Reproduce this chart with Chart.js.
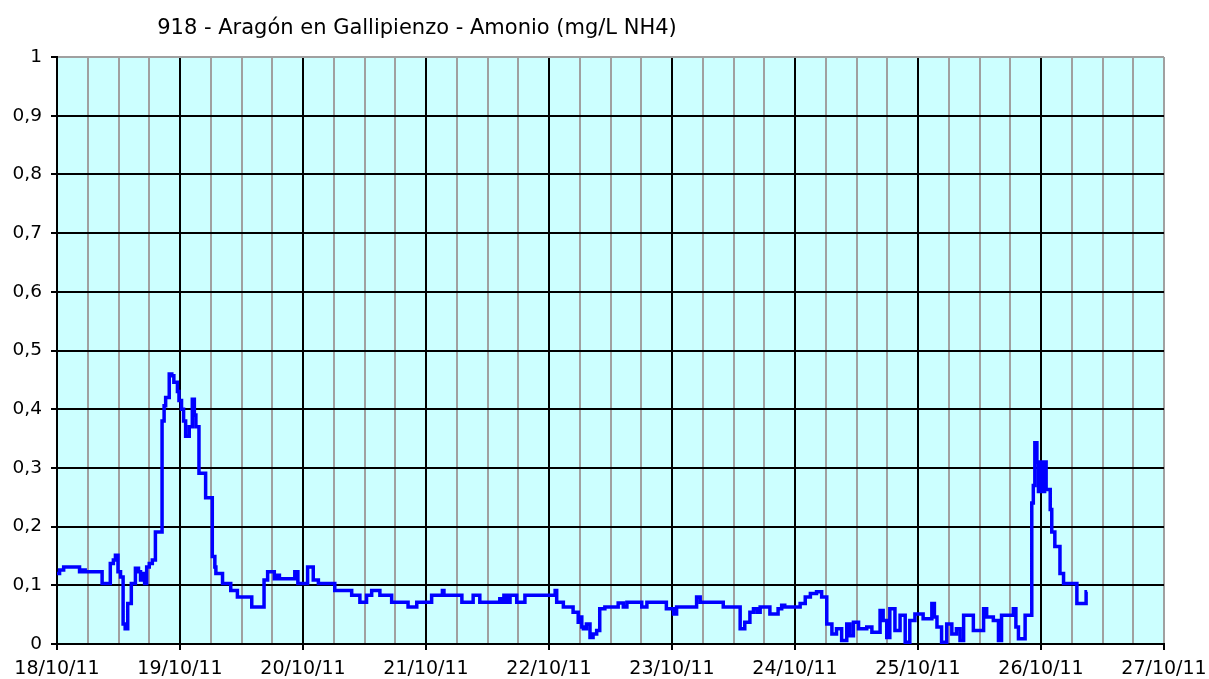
<!DOCTYPE html>
<html>
<head>
<meta charset="utf-8">
<script src="https://cdn.jsdelivr.net/npm/chart.js@4/dist/chart.umd.min.js"></script>
<style>
  html, body { margin:0; padding:0; background:#fff; }
  #wrap { width:1209px; height:679px; position:relative; }
</style>
</head>
<body>
<div id="wrap"><canvas id="chart" width="1209" height="679"></canvas></div>
<script>
// hours since 18/10/11 00:00 and the NH4 reading (mg/L) that starts at that hour
const HOURS = [
  0, 0.5, 1.3, 4.4, 5.0, 5.5, 8.8, 10.4, 11.0, 11.4, 11.9, 12.4, 12.9, 13.3, 13.8, 14.5, 15.3, 15.9, 16.3, 16.8,
  17.1, 17.5, 18.0, 18.6, 19.2, 20.5, 20.9, 21.2, 21.9, 22.4, 22.8, 23.5, 23.8, 24.3, 24.7, 25.1, 25.8, 26.4, 26.8, 27.1,
  27.7, 29.0, 30.3, 30.8, 31.0, 32.3, 33.9, 35.2, 38.0, 40.4, 41.1, 42.4, 43.0, 43.4, 46.4, 47.0, 48.9, 50.0, 51.0, 54.2,
  57.5, 59.1, 60.4, 61.4, 63.0, 65.3, 68.5, 70.2, 73.1, 75.2, 75.5, 79.0, 81.2, 82.5, 86.4, 86.8, 87.2, 87.8, 88.4, 89.7,
  91.3, 97.2, 97.5, 98.8, 100.7, 101.7, 102.1, 102.4, 102.7, 103.3, 104.0, 104.6, 105.3, 105.9, 106.9, 109.5, 110.5, 111.2, 114.1, 115.1,
  118.9, 120.3, 120.9, 124.8, 125.5, 130.0, 133.3, 134.2, 135.2, 135.9, 136.6, 137.2, 139.1, 140.7, 141.4, 142.0, 145.0, 146.0, 147.0, 148.2,
  149.2, 150.2, 151.2, 152.1, 153.1, 154.1, 154.7, 155.4, 156.4, 158.0, 159.0, 160.6, 161.2, 161.9, 162.5, 163.5, 164.5, 165.5, 166.4, 167.4,
  169.0, 170.7, 171.2, 171.7, 172.6, 173.6, 174.6, 175.5, 176.2, 176.9, 178.8, 180.8, 181.4, 182.7, 183.7, 184.3, 186.6, 187.1, 187.6, 188.9,
  190.2, 190.5, 190.8, 191.2, 191.5, 191.8, 192.1, 192.4, 192.7, 193.0, 193.8, 194.1, 194.7, 195.7, 196.4, 199.0, 200.8, 201.0
];
const NH4 = [
  0.12, 0.126, 0.131, 0.123, 0.126, 0.123, 0.103, 0.137, 0.143, 0.151, 0.123, 0.114, 0.034, 0.026, 0.069, 0.103, 0.129, 0.123, 0.109, 0.12,
  0.103, 0.131, 0.137, 0.143, 0.191, 0.38, 0.406, 0.42, 0.46, 0.457, 0.446, 0.43, 0.415, 0.40, 0.38, 0.354, 0.37, 0.417, 0.39, 0.37,
  0.291, 0.249, 0.149, 0.131, 0.12, 0.103, 0.091, 0.08, 0.063, 0.109, 0.123, 0.111, 0.117, 0.111, 0.123, 0.103, 0.131, 0.109, 0.103, 0.091,
  0.083, 0.071, 0.083, 0.091, 0.083, 0.071, 0.063, 0.071, 0.083, 0.091, 0.083, 0.071, 0.083, 0.071, 0.077, 0.071, 0.083, 0.071, 0.083, 0.071,
  0.083, 0.091, 0.071, 0.063, 0.054, 0.037, 0.046, 0.029, 0.026, 0.034, 0.011, 0.017, 0.023, 0.06, 0.063, 0.07, 0.063, 0.071, 0.063, 0.071,
  0.06, 0.051, 0.063, 0.08, 0.071, 0.063, 0.026, 0.037, 0.054, 0.06, 0.054, 0.063, 0.051, 0.06, 0.066, 0.063, 0.069, 0.08, 0.086, 0.089,
  0.08, 0.034, 0.017, 0.026, 0.006, 0.034, 0.014, 0.037, 0.026, 0.029, 0.02, 0.057, 0.04, 0.011, 0.06, 0.023, 0.049, 0.003, 0.04, 0.051,
  0.043, 0.069, 0.046, 0.029, 0.003, 0.034, 0.017, 0.026, 0.006, 0.049, 0.023, 0.06, 0.046, 0.04, 0.006, 0.049, 0.06, 0.029, 0.009, 0.049,
  0.24, 0.27, 0.343, 0.31, 0.26, 0.31, 0.31, 0.26, 0.31, 0.263, 0.229, 0.191, 0.166, 0.12, 0.103, 0.069, 0.089, 0.089
];
const DAY_LABELS = ["18/10/11","19/10/11","20/10/11","21/10/11","22/10/11","23/10/11","24/10/11","25/10/11","26/10/11","27/10/11"];
const TITLE = "918 - Aragón en Gallipienzo - Amonio (mg/L NH4)";

const FONT = "'DejaVu Sans', Verdana, sans-serif";
const GRID_DARK = "#000000";
const GRID_LIGHT = "#a0a0a0";

const plotBg = {
  id: "plotBg",
  beforeDraw(chart) {
    const { ctx, chartArea: a } = chart;
    ctx.save();
    ctx.fillStyle = "#ccffff";
    ctx.fillRect(a.left, a.top, a.right - a.left, a.bottom - a.top);
    ctx.restore();
  },
  afterDraw(chart) {
    const ctx = chart.ctx;
    ctx.save();
    ctx.fillStyle = "#000";
    ctx.font = "21px " + FONT;
    ctx.textAlign = "center";
    ctx.textBaseline = "alphabetic";
    ctx.fillText(TITLE, 417, 34);
    ctx.restore();
  }
};

new Chart(document.getElementById("chart"), {
  type: "line",
  data: {
    datasets: [{
      data: HOURS.map((h, i) => ({ x: h, y: NH4[i] })),
      borderColor: "#0000ff",
      borderWidth: 3.5,
      pointRadius: 0,
      stepped: true,
      fill: false
    }]
  },
  options: {
    responsive: false,
    animation: false,
    layout: { padding: { top: 57, right: 45, left: 0, bottom: 0 } },
    plugins: { legend: { display: false }, tooltip: { enabled: false }, title: { display: false } },
    scales: {
      x: {
        type: "linear", min: 0, max: 216,
        afterFit: (s) => { s.height = 35; s.paddingLeft = 0; s.paddingRight = 0; },
        afterBuildTicks: (s) => {
          s.ticks = [];
          for (let h = 0; h <= 216; h += 6) s.ticks.push({ value: h });
        },
        ticks: {
          autoSkip: false, maxRotation: 0, color: "#000", padding: 8,
          font: { family: FONT, size: 19 },
          callback: (v) => (v % 24 === 0 ? DAY_LABELS[v / 24] : "")
        },
        grid: {
          color: (c) => (c.tick && c.tick.value % 24 === 0 && c.tick.value !== 216 ? GRID_DARK : GRID_LIGHT),
          tickColor: (c) => (c.tick && c.tick.value % 24 === 0 ? "#000" : "rgba(0,0,0,0)"),
          lineWidth: 2, tickLength: 6
        },
        border: { color: "#000", width: 2 }
      },
      y: {
        min: 0, max: 1,
        afterFit: (s) => { s.width = 57; },
        ticks: {
          stepSize: 0.1, color: "#000", padding: 9,
          font: { family: FONT, size: 18.5 },
          callback: (v) => {
            const r = Math.round(v * 10) / 10;
            return r === 0 || r === 1 ? String(r) : r.toFixed(1).replace(".", ",");
          }
        },
        grid: {
          color: (c) => (c.tick && Math.round(c.tick.value * 10) === 10 ? GRID_LIGHT : GRID_DARK),
          tickColor: "#000",
          lineWidth: 2, tickLength: 6
        },
        border: { color: "#000", width: 2 }
      }
    }
  },
  plugins: [plotBg]
});
</script>
</body>
</html>
